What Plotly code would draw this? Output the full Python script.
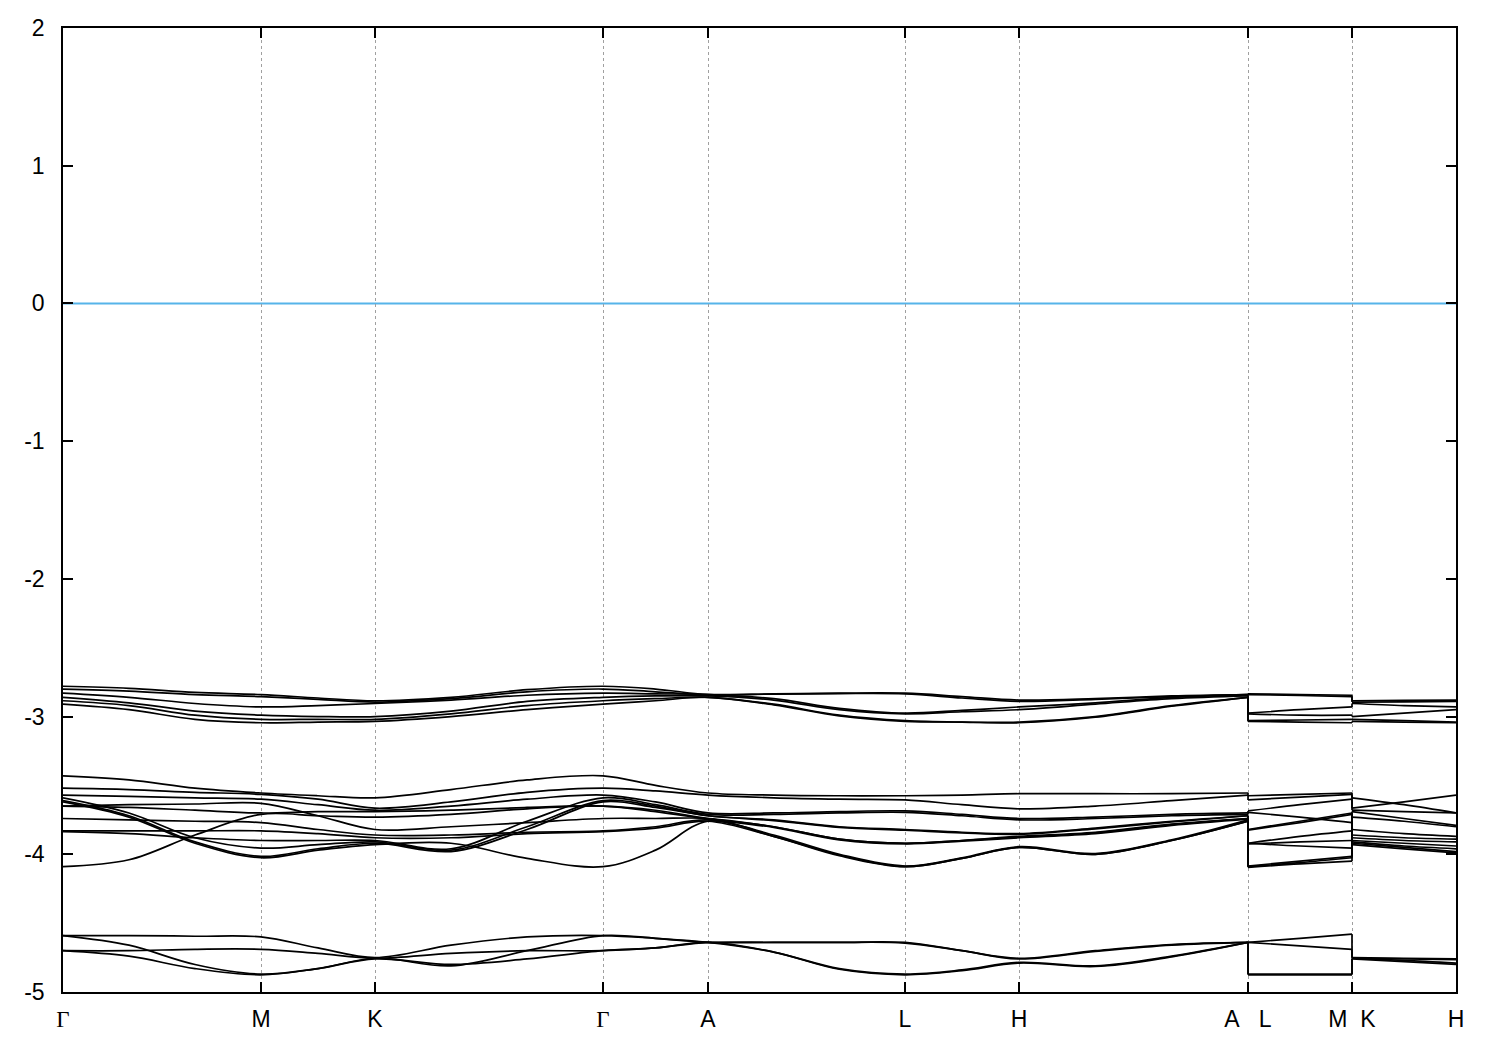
import plotly.graph_objects as go

# ---- k-path: high-symmetry points and sampled k positions (path length units) ----
HS_POS = [0.0, 0.198, 0.312, 0.540, 0.645, 0.842, 0.956, 1.185, 1.289, 1.393]
HS_LABELS = ["Γ", "M", "K", "Γ", "A", "L", "H", "A\u00a0\u00a0\u00a0L", "M\u00a0\u00a0K", "H"]

K_PATH = [0.0, 0.066, 0.132, 0.198, 0.255, 0.312, 0.388, 0.464, 0.540, 0.5925,
          0.645, 0.7107, 0.7763, 0.842, 0.899, 0.956, 1.0323, 1.1087, 1.185,
          1.185, 1.237, 1.289,
          1.289, 1.341, 1.393]
# indices where the path is discontinuous (A|L and M|K)
BREAKS = [19, 22]

E_FERMI = 0.0
Y_TICKS = [2, 1, 0, -1, -2, -3, -4, -5]
Y_TICK_TEXT = ["2", "1", "0", "-1", "-2", "-3", "-4", "-5"]

# ---- band energies (eV) at K_PATH points ----
T1 = [-2.78, -2.795, -2.825, -2.84, -2.865, -2.885, -2.86, -2.805, -2.78, -2.80, -2.84, -2.835, -2.83, -2.83, -2.855, -2.88, -2.87, -2.85, -2.84, -2.835, -2.84, -2.845, -2.885, -2.883, -2.88]
T2 = [-2.80, -2.815, -2.84, -2.855, -2.875, -2.895, -2.87, -2.82, -2.80, -2.82, -2.84, -2.837, -2.833, -2.835, -2.865, -2.89, -2.875, -2.855, -2.84, -2.84, -2.847, -2.855, -2.895, -2.893, -2.89]
T3 = [-2.83, -2.86, -2.905, -2.93, -2.92, -2.905, -2.88, -2.845, -2.83, -2.835, -2.84, -2.87, -2.94, -2.975, -2.955, -2.93, -2.90, -2.86, -2.84, -2.975, -2.95, -2.93, -2.905, -2.92, -2.93]
T4 = [-2.86, -2.90, -2.96, -2.99, -3.00, -3.00, -2.96, -2.89, -2.86, -2.85, -2.85, -2.88, -2.95, -2.98, -2.965, -2.95, -2.91, -2.87, -2.85, -2.98, -2.99, -2.99, -3.00, -2.975, -2.95]
T5 = [-2.885, -2.92, -2.99, -3.02, -3.02, -3.02, -2.98, -2.92, -2.885, -2.87, -2.86, -2.91, -2.99, -3.03, -3.04, -3.04, -3.00, -2.92, -2.86, -3.03, -3.025, -3.02, -3.02, -3.03, -3.04]
T6 = [-2.91, -2.95, -3.02, -3.045, -3.04, -3.035, -3.00, -2.95, -2.91, -2.885, -2.86, -2.915, -2.995, -3.035, -3.04, -3.045, -3.005, -2.925, -2.86, -3.035, -3.04, -3.045, -3.035, -3.04, -3.045]

M1 = [-3.43, -3.46, -3.52, -3.555, -3.575, -3.59, -3.53, -3.46, -3.43, -3.50, -3.555, -3.57, -3.575, -3.575, -3.57, -3.56, -3.56, -3.56, -3.555, -3.575, -3.565, -3.555, -3.59, -3.64, -3.70]
M2 = [-3.52, -3.53, -3.55, -3.565, -3.60, -3.665, -3.62, -3.55, -3.52, -3.54, -3.57, -3.59, -3.60, -3.605, -3.64, -3.67, -3.65, -3.61, -3.57, -3.605, -3.585, -3.565, -3.665, -3.62, -3.57]
M3 = [-3.57, -3.58, -3.59, -3.60, -3.64, -3.68, -3.65, -3.60, -3.57, -3.62, -3.70, -3.70, -3.69, -3.685, -3.71, -3.74, -3.73, -3.71, -3.70, -3.685, -3.64, -3.60, -3.68, -3.69, -3.70]
M4 = [-3.59, -3.70, -3.88, -3.955, -3.93, -3.91, -3.97, -3.80, -3.61, -3.65, -3.72, -3.75, -3.80, -3.82, -3.84, -3.85, -3.81, -3.76, -3.72, -3.82, -3.76, -3.70, -3.91, -3.94, -3.96]
M5 = [-3.61, -3.72, -3.91, -4.015, -3.96, -3.92, -3.98, -3.82, -3.62, -3.66, -3.72, -3.755, -3.805, -3.825, -3.845, -3.855, -3.815, -3.765, -3.72, -3.825, -3.77, -3.71, -3.92, -3.95, -3.98]
M6 = [-3.62, -3.73, -3.92, -4.025, -3.97, -3.93, -3.92, -4.03, -4.09, -3.97, -3.76, -3.87, -4.01, -4.09, -4.03, -3.95, -4.00, -3.90, -3.76, -4.095, -4.07, -4.05, -3.93, -3.96, -3.99]
M7 = [-3.65, -3.64, -3.635, -3.63, -3.72, -3.82, -3.80, -3.77, -3.74, -3.74, -3.74, -3.80, -3.89, -3.92, -3.90, -3.87, -3.84, -3.78, -3.74, -3.92, -3.94, -3.955, -3.82, -3.85, -3.87]
M8 = [-3.65, -3.66, -3.68, -3.70, -3.69, -3.69, -3.68, -3.66, -3.65, -3.68, -3.74, -3.80, -3.89, -3.92, -3.90, -3.875, -3.845, -3.785, -3.74, -3.92, -3.87, -3.83, -3.69, -3.74, -3.79]
M9 = [-3.74, -3.75, -3.76, -3.77, -3.82, -3.86, -3.86, -3.84, -3.83, -3.80, -3.75, -3.86, -4.00, -4.085, -4.025, -3.945, -3.995, -3.895, -3.75, -4.085, -4.05, -4.015, -3.86, -3.88, -3.89]
M10 = [-3.83, -3.83, -3.83, -3.83, -3.85, -3.88, -3.88, -3.85, -3.835, -3.81, -3.76, -3.87, -4.005, -4.09, -4.03, -3.95, -4.00, -3.90, -3.76, -4.09, -4.06, -4.025, -3.88, -3.90, -3.91]
M11 = [-3.835, -3.85, -3.88, -3.90, -3.90, -3.90, -3.96, -3.76, -3.59, -3.64, -3.71, -3.71, -3.70, -3.695, -3.72, -3.75, -3.74, -3.72, -3.71, -3.695, -3.73, -3.77, -3.90, -3.92, -3.94]
M12 = [-4.09, -4.04, -3.86, -3.71, -3.72, -3.73, -3.71, -3.67, -3.65, -3.69, -3.745, -3.805, -3.895, -3.925, -3.905, -3.88, -3.85, -3.79, -3.745, -3.925, -3.91, -3.90, -3.73, -3.76, -3.80]

B1 = [-4.59, -4.59, -4.595, -4.60, -4.68, -4.75, -4.66, -4.60, -4.59, -4.61, -4.64, -4.64, -4.64, -4.64, -4.70, -4.755, -4.70, -4.655, -4.64, -4.64, -4.61, -4.58, -4.75, -4.755, -4.76]
B2 = [-4.70, -4.70, -4.69, -4.69, -4.72, -4.755, -4.72, -4.70, -4.70, -4.68, -4.64, -4.64, -4.64, -4.645, -4.70, -4.76, -4.705, -4.66, -4.64, -4.64, -4.665, -4.69, -4.755, -4.76, -4.765]
B3 = [-4.59, -4.66, -4.80, -4.87, -4.83, -4.755, -4.81, -4.70, -4.59, -4.61, -4.64, -4.71, -4.83, -4.87, -4.84, -4.785, -4.81, -4.74, -4.64, -4.87, -4.87, -4.87, -4.755, -4.77, -4.79]
B4 = [-4.70, -4.74, -4.83, -4.875, -4.83, -4.76, -4.80, -4.76, -4.70, -4.68, -4.64, -4.71, -4.835, -4.875, -4.845, -4.79, -4.815, -4.745, -4.64, -4.875, -4.875, -4.875, -4.76, -4.78, -4.80]

BANDS = [T1, T2, T3, T4, T5, T6, M1, M2, M3, M4, M5, M6, M7, M8, M9, M10, M11, M12, B1, B2, B3, B4]

BAND_COLOR = "black"
FERMI_COLOR = "#56B4E9"

fig = go.Figure()


def pieces(values):
    """Split a band into its continuous path pieces (None-separated)."""
    xs, ys = [], []
    starts = [0] + BREAKS
    ends = BREAKS + [len(K_PATH)]
    for s, e in zip(starts, ends):
        xs += K_PATH[s:e] + [None]
        ys += values[s:e] + [None]
    return xs, ys


def jumps(values):
    """Vertical connectors at the path discontinuities."""
    xs, ys = [], []
    for b in BREAKS:
        xs += [K_PATH[b - 1], K_PATH[b], None]
        ys += [values[b - 1], values[b], None]
    return xs, ys


for band in BANDS:
    x, y = pieces(band)
    fig.add_trace(go.Scatter(x=x, y=y, mode="lines",
                             line=dict(color=BAND_COLOR, width=1.7, shape="spline", smoothing=1.0),
                             connectgaps=False, hoverinfo="skip"))
    xj, yj = jumps(band)
    fig.add_trace(go.Scatter(x=xj, y=yj, mode="lines",
                             line=dict(color=BAND_COLOR, width=1.7),
                             connectgaps=False, hoverinfo="skip"))

fig.add_hline(y=E_FERMI, line=dict(color=FERMI_COLOR, width=2), layer="below")

tick_text = [('<span style="font-family:Liberation Serif">%s</span>' % t) if t == "Γ" else t
             for t in HS_LABELS]

fig.update_layout(
    width=1500, height=1050,
    margin=dict(l=55, r=52, t=20, b=66, autoexpand=False),
    plot_bgcolor="white", paper_bgcolor="white",
    showlegend=False,
    font=dict(family="Liberation Sans, Arial, sans-serif", size=23, color="black"),
)
fig.update_xaxes(
    range=[HS_POS[0], HS_POS[-1]], automargin=False,
    tickmode="array", tickvals=HS_POS, ticktext=tick_text,
    showgrid=True, gridcolor="#A0A0A0", griddash="dot", gridwidth=1,
    ticks="inside", ticklen=10, tickwidth=1.5, tickcolor="black",
    showline=True, linecolor="black", linewidth=1.5, mirror="ticks",
    zeroline=False, ticklabelstandoff=6,
)
fig.update_yaxes(
    range=[-5, 2], automargin=False,
    tickmode="array", tickvals=Y_TICKS, ticktext=Y_TICK_TEXT,
    showgrid=False,
    ticks="inside", ticklen=10, tickwidth=1.5, tickcolor="black",
    showline=True, linecolor="black", linewidth=1.5, mirror="ticks",
    zeroline=False, ticklabelstandoff=12,
)

fig.write_html("out.html")
